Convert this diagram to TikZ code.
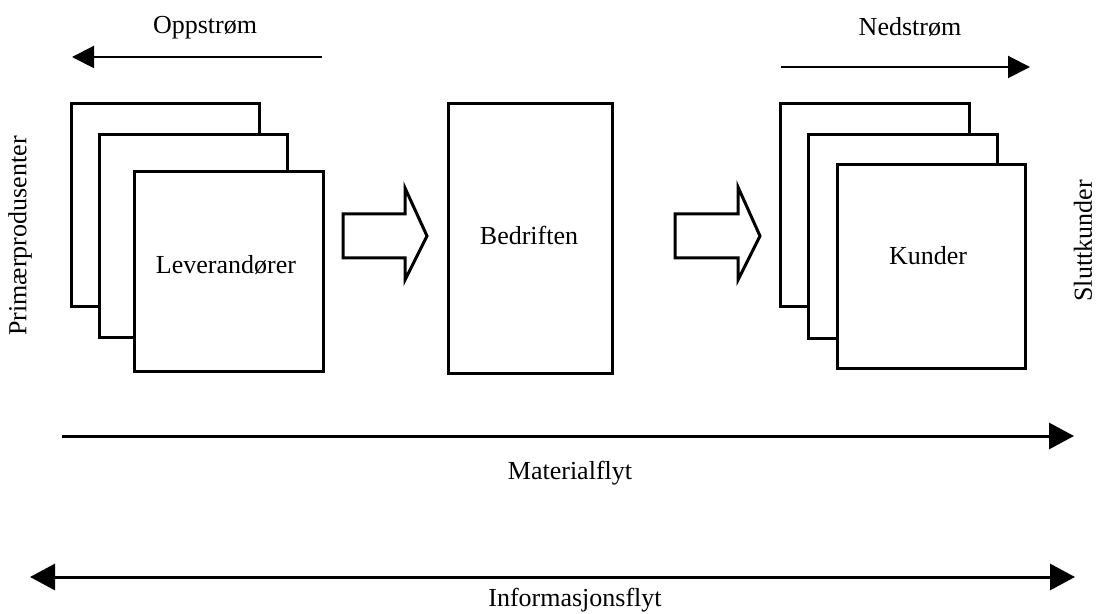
\documentclass[tikz,border=0pt]{standalone}
\usepackage{fontspec}
\setmainfont{Liberation Serif}
\usetikzlibrary{arrows.meta}
\begin{document}
\begin{tikzpicture}[x=0.5pt,y=-0.5pt,
  every node/.style={font=\fontsize{13}{15}\selectfont, inner sep=0pt},
  card/.style={draw, fill=white, line width=1.5pt, anchor=north west},
  flowarrow/.style={line width=1.5pt, -{Triangle[length=12.5pt,width=13pt]}},
  dirarrow/.style={line width=1pt, -{Triangle[length=11pt,width=11pt]}},
  blockarrow/.style={draw, fill=white, line width=1.5pt, line join=miter}]
\useasboundingbox (0,0) rectangle (1097,614);

% Upstream / downstream labels and arrows
\node (opp) at (205,28) {Oppstrøm};
\coordinate (oppS) at (322,57);
\coordinate (oppE) at (72,57);
\draw[dirarrow] (oppS) -- (oppE);

\node (ned) at (910,27) {Nedstrøm};
\coordinate (nedS) at (781,67);
\coordinate (nedE) at (1030,67);
\draw[dirarrow] (nedS) -- (nedE);

% Supplier stack
\node[card, minimum width=94pt, minimum height=101.5pt] (lev1) at (70,102) {};
\node[card, minimum width=94pt, minimum height=101.5pt] (lev2) at (98,133) {};
\node[card, minimum width=94.5pt, minimum height=100pt] (lev3) at (133,170) {};
\node (levtxt) at (226,265) {Leverandører};

% Company
\node[card, minimum width=82pt, minimum height=135pt] (bed) at (447,102) {};
\node (bedtxt) at (529,235) {Bedriften};

% Customer stack
\node[card, minimum width=94.5pt, minimum height=101.5pt] (kun1) at (779,102) {};
\node[card, minimum width=94.5pt, minimum height=102pt] (kun2) at (807,133) {};
\node[card, minimum width=94pt, minimum height=102pt] (kun3) at (836,163) {};
\node (kuntxt) at (928,256) {Kunder};

% Block arrows between the stages
\draw[blockarrow] (343,214) -- (405,214) -- (405,188) -- (427,236) -- (405,280)
  -- (405,258) -- (343,258) -- cycle;
\draw[blockarrow] (675,214) -- (738,214) -- (738,187) -- (760,236) -- (738,280)
  -- (738,258) -- (675,258) -- cycle;

% Side labels
\node[rotate=90] (prim) at (20,236) {Primærprodusenter};
\node[rotate=90] (slutt) at (1083,241) {Sluttkunder};

% Material and information flow
\coordinate (matS) at (62,436);
\coordinate (matE) at (1074,436);
\draw[flowarrow] (matS) -- (matE);
\node (mat) at (570,473) {Materialflyt};

\coordinate (infS) at (30,577);
\coordinate (infE) at (1075,577);
\draw[flowarrow, {Triangle[length=12.5pt,width=13pt]}-{Triangle[length=12.5pt,width=13pt]}] (infS) -- (infE);
\node (inf) at (575,600) {Informasjonsflyt};
\end{tikzpicture}
\end{document}
